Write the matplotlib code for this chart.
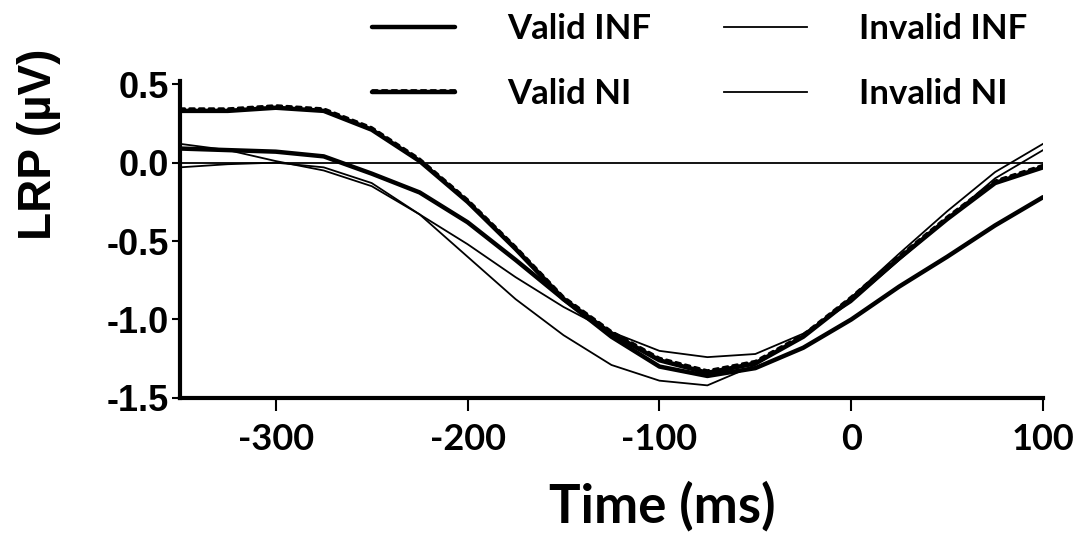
import matplotlib
matplotlib.use("Agg")
import matplotlib.pyplot as plt
import matplotlib.patheffects as pe

# ── data (LRP in µV, sampled every 25 ms) ────────────────────────────────────
time_ms = [-350, -325, -300, -275, -250, -225, -200, -175, -150, -125,
           -100, -75, -50, -25, 0, 25, 50, 75, 100]

valid_inf = [0.09, 0.08, 0.07, 0.04, -0.07, -0.19, -0.38, -0.62, -0.87, -1.11,
             -1.30, -1.36, -1.31, -1.18, -1.00, -0.79, -0.60, -0.40, -0.22]
valid_ni = [0.33, 0.33, 0.35, 0.33, 0.21, 0.01, -0.25, -0.55, -0.87, -1.09,
            -1.26, -1.34, -1.28, -1.11, -0.87, -0.61, -0.36, -0.13, -0.03]
invalid_inf = [0.12, 0.08, 0.01, -0.05, -0.15, -0.33, -0.60, -0.87, -1.10, -1.29,
               -1.39, -1.42, -1.29, -1.10, -0.86, -0.58, -0.31, -0.06, 0.12]
invalid_ni = [-0.03, -0.01, 0.00, -0.03, -0.13, -0.33, -0.52, -0.73, -0.92, -1.08,
              -1.20, -1.24, -1.22, -1.09, -0.89, -0.62, -0.36, -0.10, 0.08]

xticks = [-300, -200, -100, 0, 100]
yticks = [-1.5, -1.0, -0.5, 0.0, 0.5]

# ── fonts ────────────────────────────────────────────────────────────────────
HUMAN = ["Lato", "DejaVu Sans"]
WIDE = ["Liberation Sans", "DejaVu Sans"]

fig = plt.figure(figsize=(10.77, 5.37), dpi=100)
ax = fig.add_axes([0.167, 0.259, 0.8015, 0.590])

ax.axhline(0, color="black", linewidth=1.3, zorder=1)

ax.plot(time_ms, invalid_inf, color="black", linewidth=1.3, label="Invalid INF")
ax.plot(time_ms, invalid_ni, color="black", linewidth=1.3, label="Invalid NI")
ax.plot(time_ms, valid_inf, color="black", linewidth=3.2, label="Valid INF",
        solid_capstyle="round")
# thick line with a short-dashed stroke riding on top
ax.plot(time_ms, valid_ni, color="black", linewidth=3.2, label="Valid NI",
        solid_capstyle="round",
        path_effects=[pe.Normal(),
                      pe.Stroke(offset=(0, 1.6), linewidth=2.0,
                                dashes={"dash_offset": 0, "dash_list": [3.5, 3.5]})])

ax.set_xlim(-350, 100)
ax.set_ylim(-1.5, 0.52)
ax.set_xticks(xticks)
ax.set_yticks(yticks)
ax.set_xticklabels([f"{t}" for t in xticks], family=HUMAN, fontweight="bold",
                   fontsize=26)
ax.set_yticklabels([f"{t:.1f}" for t in yticks], family=WIDE, fontweight="bold",
                   fontsize=26)

for side in ("top", "right"):
    ax.spines[side].set_visible(False)
for side in ("left", "bottom"):
    ax.spines[side].set_linewidth(3)
ax.tick_params(axis="x", length=9, width=1.5, pad=9)
ax.tick_params(axis="y", length=6, width=1.5, pad=2)

ax.set_xlabel("Time (ms)", family=HUMAN, fontweight="bold", fontsize=38)
ax.xaxis.set_label_coords(0.559, -0.262)
ax.set_ylabel("LRP (µV)", family=WIDE, fontweight="bold", fontsize=33)
ax.yaxis.set_label_coords(-0.138, 0.80)

handles, labels = ax.get_legend_handles_labels()
order = [2, 3, 0, 1]
fig.legend([handles[i] for i in order], [labels[i] for i in order],
           loc="upper left", bbox_to_anchor=(0.345, 0.975), ncol=2,
           frameon=False, prop={"family": HUMAN, "weight": "bold", "size": 25},
           handlelength=2.4, handletextpad=1.5, columnspacing=2.1,
           labelspacing=0.95, borderpad=0, borderaxespad=0)

fig.savefig("out.png", dpi=100, facecolor="white")
